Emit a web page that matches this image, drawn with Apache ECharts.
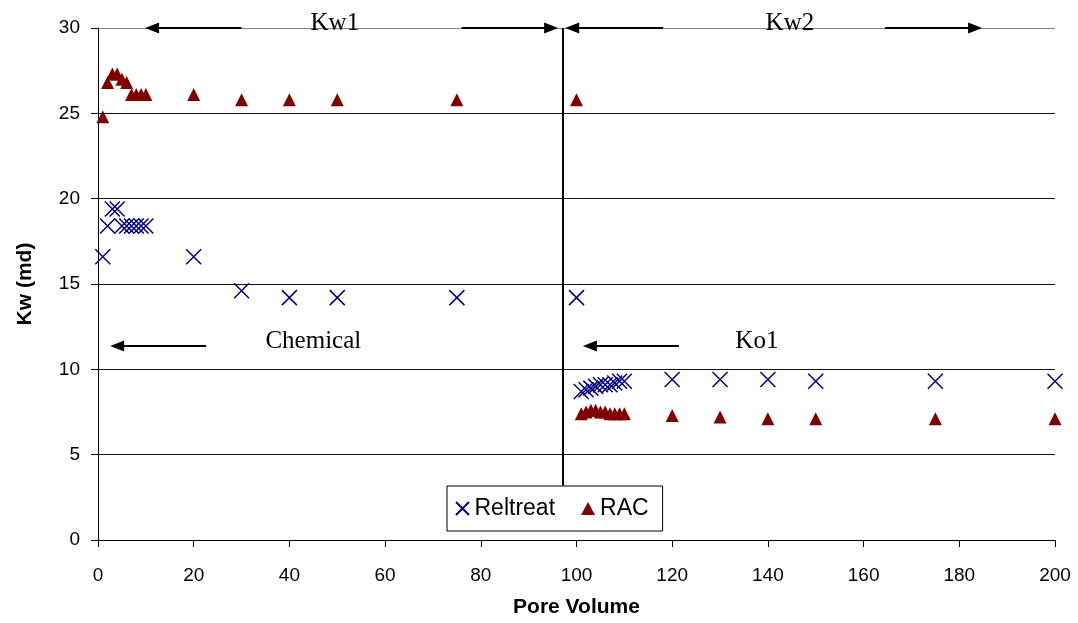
<!DOCTYPE html>
<html>
<head>
<meta charset="utf-8">
<script src="https://cdn.jsdelivr.net/npm/echarts@6/dist/echarts.min.js"></script>
<style>
  html, body { margin: 0; padding: 0; background: #fff; }
  #chart { width: 1078px; height: 623px; }
</style>
</head>
<body>
<div id="chart"></div>
<script>
// pore volume / Kw readings
const reltreatX = [1, 2, 3, 4, 5, 6, 7, 8, 9, 10, 20, 30, 40, 50, 75, 100,
  101, 102, 103, 104, 105, 106, 107, 108, 109, 110, 120, 130, 140, 150, 175, 200];
const reltreatY = [16.6, 18.4, 19.4, 19.4, 18.4, 18.4, 18.4, 18.4, 18.4, 18.4, 16.6, 14.6, 14.2, 14.2, 14.2, 14.2,
  8.7, 8.8, 8.9, 9.0, 9.1, 9.1, 9.1, 9.2, 9.3, 9.3, 9.4, 9.4, 9.4, 9.3, 9.3, 9.3];

const racX = [1, 2, 3, 4, 5, 6, 7, 8, 9, 10, 20, 30, 40, 50, 75, 100,
  101, 102, 103, 104, 105, 106, 107, 108, 109, 110, 120, 130, 140, 150, 175, 200];
const racY = [24.8, 26.8, 27.3, 27.3, 27.0, 26.8, 26.1, 26.1, 26.1, 26.1, 26.1, 25.8, 25.8, 25.8, 25.8, 25.8,
  7.4, 7.5, 7.6, 7.6, 7.5, 7.5, 7.4, 7.4, 7.4, 7.4, 7.3, 7.2, 7.1, 7.1, 7.1, 7.1];

// annotation arrows [x from, y from, x to, y to] and labels [text, x, y, dy]
const arrows = [
  [30.0, 30, 11.3, 30],
  [76.0, 30, 94.7, 30],
  [118.1, 30, 99.1, 30],
  [164.5, 30, 183.3, 30],
  [22.6, 11.37, 4.0, 11.37],
  [121.4, 11.37, 102.8, 11.37]
];
const notes = [
  ["Kw1", 49.5, 30, -5],
  ["Kw2", 144.6, 30, -5],
  ["Chemical", 45, 11.66, 0],
  ["Ko1", 137.7, 11.66, 0]
];
const dividerX = 97.2;
const dividerBottom = 3.2;

const xMark = "path://M0,0L10,10M10,0L0,10";

const chart = echarts.init(document.getElementById("chart"));

const arrowLines = arrows.map(a => [
  { coord: [a[0], a[1]], symbol: "none" },
  { coord: [a[2], a[3]], symbol: "triangle", symbolSize: [11, 14] }
]);
arrowLines.push([
  { coord: [dividerX, 30], symbol: "none" },
  { coord: [dividerX, dividerBottom], symbol: "none" }
]);

const option = {
  animation: false,
  grid: { left: 98, right: 23, top: 28, bottom: 83 },
  xAxis: {
    type: "value",
    min: 0,
    max: 200,
    interval: 20,
    name: "Pore Volume",
    nameLocation: "middle",
    nameGap: 57,
    nameTextStyle: { fontFamily: "Liberation Sans", fontWeight: "bold", fontSize: 21, color: "#000" },
    axisLine: { lineStyle: { color: "#000", width: 1 } },
    axisTick: { show: true, length: 7, lineStyle: { color: "#000" } },
    axisLabel: { margin: 26, fontFamily: "Liberation Sans", fontSize: 19, color: "#000" },
    splitLine: { show: false }
  },
  yAxis: {
    type: "value",
    min: 0,
    max: 30,
    interval: 5,
    name: "Kw (md)",
    nameLocation: "middle",
    nameGap: 62,
    nameTextStyle: { fontFamily: "Liberation Sans", fontWeight: "bold", fontSize: 21, color: "#000" },
    axisLine: { show: true, lineStyle: { color: "#000", width: 1 } },
    axisTick: { show: true, length: 7, lineStyle: { color: "#000" } },
    axisLabel: { margin: 18, fontFamily: "Liberation Sans", fontSize: 19, color: "#000" },
    splitLine: {
      show: true,
      lineStyle: { color: ["#000", "#111", "#111", "#111", "#111", "#111", "#808080"], width: 1 }
    }
  },
  legend: {
    data: [
      { name: "Reltreat", icon: xMark },
      { name: "RAC", icon: "triangle" }
    ],
    left: 447,
    top: 486,
    itemWidth: 14,
    itemHeight: 13,
    itemGap: 26,
    padding: [11, 14, 11, 8],
    backgroundColor: "#fff",
    borderColor: "#000",
    borderWidth: 1,
    borderRadius: 0,
    textStyle: { fontFamily: "Liberation Sans", fontSize: 23, color: "#000" }
  },
  series: [
    {
      name: "Reltreat",
      type: "scatter",
      symbol: xMark,
      symbolSize: 15,
      itemStyle: { color: "transparent", borderColor: "#000080", borderWidth: 1.5, opacity: 1 },
      data: reltreatX.map((x, i) => [x, reltreatY[i]]),
      z: 3
    },
    {
      name: "RAC",
      type: "scatter",
      symbol: "triangle",
      symbolSize: [13, 13],
      itemStyle: { color: "#800000", opacity: 1 },
      data: racX.map((x, i) => [x, racY[i]]),
      z: 3
    },
    {
      name: "annotations",
      type: "line",
      data: [],
      silent: true,
      markLine: {
        silent: true,
        animation: false,
        label: { show: false },
        lineStyle: { color: "#000", width: 2, type: "solid" },
        emphasis: { disabled: true },
        data: arrowLines
      },
      markPoint: {
        silent: true,
        symbol: "circle",
        symbolSize: 0,
        label: {
          show: true,
          position: "inside",
          fontFamily: "Liberation Serif",
          fontSize: 25,
          color: "#000",
          formatter: p => p.name
        },
        data: notes.map(n => ({ name: n[0], coord: [n[1], n[2]], label: { offset: [0, n[3]] } }))
      }
    }
  ]
};

chart.setOption(option);
</script>
</body>
</html>
